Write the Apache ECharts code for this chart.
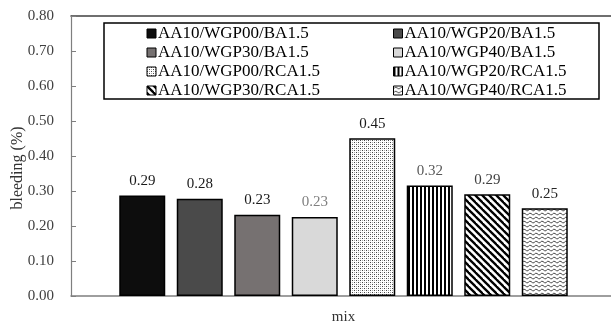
<!DOCTYPE html>
<html><head><meta charset="utf-8">
<script src="https://cdn.jsdelivr.net/npm/echarts@6/dist/echarts.min.js"></script>
<style>html,body{margin:0;padding:0;background:#fff}#c{width:611px;height:325px}</style>
</head><body><div id="c"></div>
<script>
const categories = ['mix'];
const seriesNames = ['AA10/WGP00/BA1.5','AA10/WGP20/BA1.5','AA10/WGP30/BA1.5','AA10/WGP40/BA1.5',
  'AA10/WGP00/RCA1.5','AA10/WGP20/RCA1.5','AA10/WGP30/RCA1.5','AA10/WGP40/RCA1.5'];
const seriesValues = [0.287, 0.278, 0.232, 0.226, 0.451, 0.316, 0.291, 0.251];
const yTicks = [0, 0.1, 0.2, 0.3, 0.4, 0.5, 0.6, 0.7, 0.8];

const FONT = '"Liberation Serif","Times New Roman",serif';

function tile(w, h, draw) {
  const c = document.createElement('canvas'); c.width = w; c.height = h;
  const g = c.getContext('2d'); g.fillStyle = '#fff'; g.fillRect(0, 0, w, h); draw(g, w, h);
  return { image: c, repeat: 'repeat' };
}
const dots = tile(4, 4, g => {
  g.fillStyle = '#444'; g.fillRect(0, 0, 1, 1); g.fillRect(2, 2, 1, 1);
  g.fillStyle = '#aaa'; g.fillRect(2, 0, 1, 1); g.fillRect(0, 2, 1, 1);
});
const vstripes = tile(4, 4, g => { g.fillStyle = '#000'; g.fillRect(0, 0, 2, 4); });
const diag = tile(7, 7, g => {
  g.strokeStyle = '#000'; g.lineWidth = 2.3;
  for (const o of [-7, 0, 7]) { g.beginPath(); g.moveTo(o - 1, -1); g.lineTo(o + 8, 8); g.stroke(); }
});
const wave = tile(6, 4, g => {
  g.strokeStyle = '#333'; g.lineWidth = 0.9;
  g.beginPath(); g.moveTo(0, 2.8); g.quadraticCurveTo(1.5, 0.2, 3, 1.5); g.quadraticCurveTo(4.5, 3.2, 6, 2.8); g.stroke();
});
const fills = ['#0d0d0d', '#4a4a4a', '#767171', '#d9d9d9', dots, vstripes, diag, wave];
const labelColors = ['#1a1a1a', '#1a1a1a', '#1a1a1a', '#7f7f7f', '#1a1a1a', '#595959', '#404040', '#262626'];

const chart = echarts.init(document.getElementById('c'), null, { renderer: 'canvas' });
const series = seriesNames.map((n, i) => ({
  name: n, type: 'bar', data: [seriesValues[i]], barWidth: 46, barGap: '25%',
  itemStyle: { color: fills[i], borderColor: '#000', borderWidth: 1.5 },
  label: { show: true, position: 'top', distance: 7, fontFamily: FONT, fontSize: 15, color: labelColors[i],
    formatter: p => p.value.toFixed(2) },
  emphasis: { disabled: true }
}));
const legendCommon = {
  orient: 'vertical', top: 25, padding: 0, itemGap: 2, itemWidth: 9, itemHeight: 9,
  icon: 'rect', selectedMode: false,
  itemStyle: { borderColor: '#000', borderWidth: 1 },
  textStyle: { fontFamily: FONT, fontSize: 17, color: '#000', lineHeight: 15, padding: [0, 0, 0, -3] }
};
chart.setOption({
  animation: false,
  backgroundColor: '#fff',
  grid: { left: 71, right: -5, top: 16, bottom: 29, outerBoundsMode: 'none' },
  legend: [
    Object.assign({ left: 146.5, data: [seriesNames[0], seriesNames[2], seriesNames[4], seriesNames[6]] }, legendCommon),
    Object.assign({ left: 393, data: [seriesNames[1], seriesNames[3], seriesNames[5], seriesNames[7]] }, legendCommon)
  ],
  graphic: [{ type: 'rect', shape: { x: 104, y: 23, width: 495, height: 76 },
    style: { fill: null, stroke: '#000', lineWidth: 1.5 }, z: 10 }],
  xAxis: [
    { type: 'category', data: categories, axisTick: { show: false },
      axisLine: { lineStyle: { color: '#7f7f7f', width: 1.5 } },
      axisLabel: { margin: 14, fontFamily: FONT, fontSize: 15, color: '#333' } },
    { type: 'category', data: categories, position: 'top', axisTick: { show: false }, axisLabel: { show: false },
      axisLine: { lineStyle: { color: '#404040', width: 1.5 } } }
  ],
  yAxis: {
    type: 'value', min: yTicks[0], max: yTicks[yTicks.length - 1], interval: 0.1,
    axisLine: { show: true, lineStyle: { color: '#7f7f7f', width: 1.2 } },
    axisTick: { show: true, inside: true, length: 5, lineStyle: { color: '#7f7f7f' } },
    splitLine: { show: false },
    axisLabel: { margin: 17, fontFamily: FONT, fontSize: 15, color: '#404040', formatter: v => v.toFixed(2) },
    name: 'bleeding (%)', nameLocation: 'middle', nameGap: 45, nameMoveOverlap: false,
    nameTextStyle: { fontFamily: FONT, fontSize: 16, color: '#333', padding: [0, 24, 0, 0] }
  },
  series: series
});
</script></body></html>
